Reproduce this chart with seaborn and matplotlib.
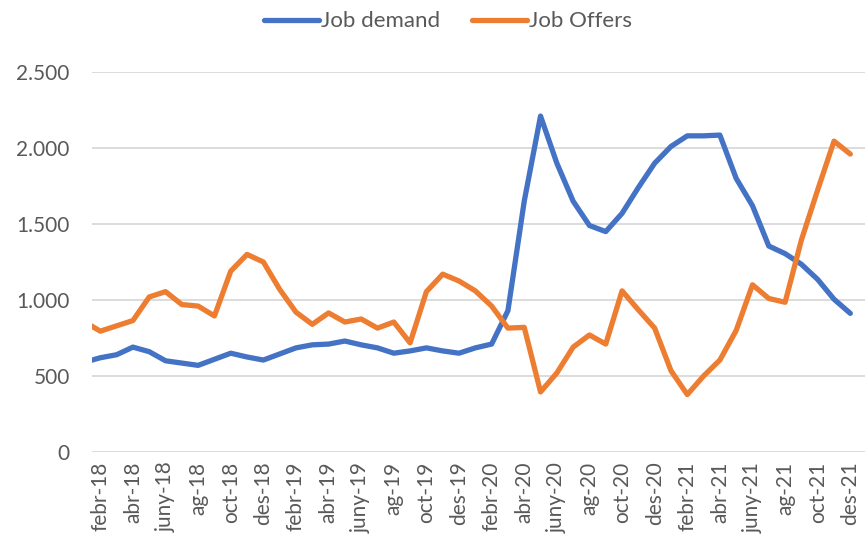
"""
Job demand vs job offers, monthly 2018-2021.
"""

import matplotlib.pyplot as plt
import matplotlib.ticker as mticker
import seaborn as sns
import pandas as pd

sns.set_style("white")
plt.rcParams['font.family'] = ['Lato', 'DejaVu Sans']

# Data (gen-18 .. des-21)
months = ['gen', 'febr', 'març', 'abr', 'maig', 'juny',
          'jul', 'ag', 'set', 'oct', 'nov', 'des']
years = ['18', '19', '20', '21']

job_demand = [590, 620, 640, 690, 660, 600, 585, 570, 610, 650, 625, 605,
              645, 685, 705, 710, 730, 705, 685, 650, 665, 685, 665, 650,
              685, 710, 930, 1650, 2210, 1900, 1650, 1490, 1450, 1570, 1740, 1900,
              2010, 2080, 2080, 2085, 1800, 1620, 1355, 1305, 1235, 1135, 1005, 912]

job_offers = [858, 795, 830, 865, 1020, 1055, 970, 960, 895, 1190, 1300, 1250,
              1070, 920, 840, 915, 855, 875, 815, 855, 718, 1055, 1170, 1125,
              1060, 960, 815, 820, 395, 520, 690, 770, 710, 1060, 935, 815,
              535, 378, 500, 605, 800, 1100, 1010, 985, 1395, 1725, 2045, 1960]

labels = [f'{m}-{y}' for y in years for m in months]

df = pd.DataFrame({
    'idx': range(len(labels)),
    'Job demand': job_demand,
    'Job Offers': job_offers,
})

BLUE = '#4472C4'
ORANGE = '#ED7D31'
GREY = '#595959'

fig = plt.figure(figsize=(8.65, 5.4), dpi=100)
ax = fig.add_axes([92 / 865, 88 / 540, 773 / 865, 380 / 540])

for col, color in [('Job demand', BLUE), ('Job Offers', ORANGE)]:
    sns.lineplot(data=df, x='idx', y=col, ax=ax, color=color, linewidth=3.8,
                 label=col, solid_joinstyle='round', solid_capstyle='round')

ax.set_xlim(0.49, 47.9)
ax.set_ylim(0, 2500)
ax.yaxis.set_major_locator(mticker.MultipleLocator(500))
ax.yaxis.set_major_formatter(
    mticker.FuncFormatter(lambda v, p: f'{v:,.0f}'.replace(',', '.')))
ax.grid(axis='y', color='#d9d9d9', linewidth=1.3)
ax.set_axisbelow(True)

ax.set_xticks(range(1, len(labels), 2))
ax.set_xticklabels(labels[1::2], rotation=90, va='top', ha='center')
ax.tick_params(axis='x', length=0, pad=7, labelsize=15, labelcolor=GREY)
ax.tick_params(axis='y', length=0, pad=16, labelsize=15, labelcolor=GREY)
ax.set_xlabel('')
ax.set_ylabel('')
for s in ax.spines.values():
    s.set_visible(False)

handles, lbls = ax.get_legend_handles_labels()
ax.get_legend().remove()
fig.legend(handles, lbls, loc='upper center', bbox_to_anchor=(0.518, 1.016),
           ncol=2, frameon=False, fontsize=16, labelcolor=GREY,
           handlelength=2.5, handletextpad=0.1, columnspacing=1.4)

fig.savefig('out.png', dpi=100)
